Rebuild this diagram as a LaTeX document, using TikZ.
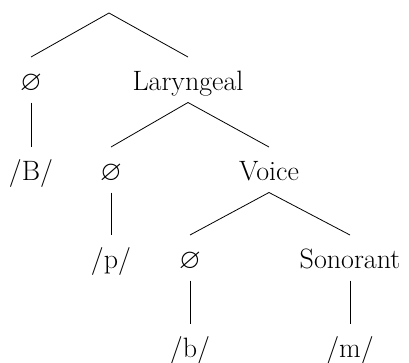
\RequirePackage{fix-cm}
\documentclass[tikz,border=0pt]{standalone}
\usepackage{amssymb}
\begin{document}
\begin{tikzpicture}[x=1pt,y=1pt,
  lab/.style={anchor=base,inner sep=0pt,outer sep=0pt,text height=33pt,text depth=12.5pt,font=\fontsize{28}{34}\selectfont},
  branch/.style={line width=0.8pt}]
\useasboundingbox (0,0) rectangle (409,-362);
\coordinate (root) at (109,-13);
\node[lab] (o1) at (31,-90) {$\varnothing$};
\node[lab] (lar) at (188,-90) {Laryngeal};
\node[lab] (B) at (31,-180) {/B/};
\node[lab] (o2) at (111,-180) {$\varnothing$};
\node[lab] (voi) at (269,-180) {Voice};
\node[lab] (p) at (111,-268) {/p/};
\node[lab] (o3) at (190,-268) {$\varnothing$};
\node[lab] (son) at (350,-268) {Sonorant};
\node[lab] (b) at (190,-357) {/b/};
\node[lab] (m) at (350,-357) {/m/};
\draw[branch] (o1.north) -- (root) -- (lar.north);
\draw[branch] (o2.north) -- (lar.south) -- (voi.north);
\draw[branch] (o3.north) -- (voi.south) -- (son.north);
\draw[branch] (o1.south) -- (B.north);
\draw[branch] (o2.south) -- (p.north);
\draw[branch] (o3.south) -- (b.north);
\draw[branch] (son.south) -- (m.north);
\end{tikzpicture}
\end{document}
